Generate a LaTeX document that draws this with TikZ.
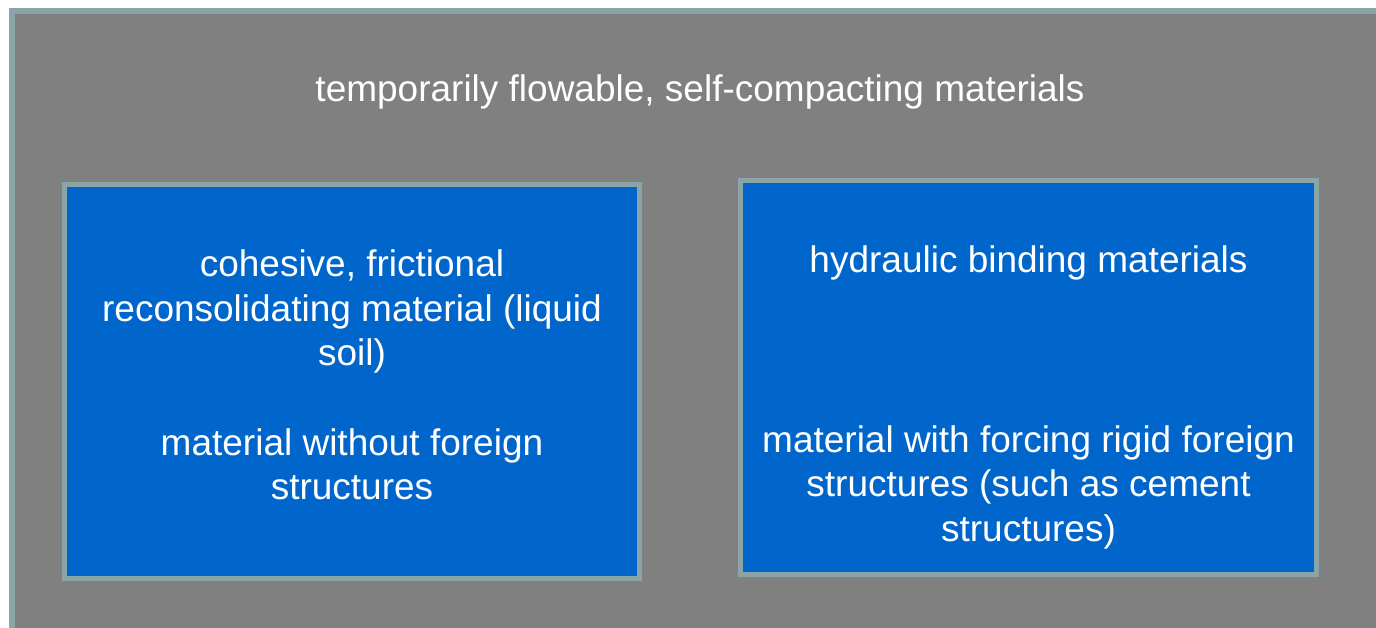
\documentclass[tikz,border=0pt]{standalone}
\usepackage{fontspec}
\setmainfont{Liberation Sans}
\usetikzlibrary{positioning}
\definecolor{framegrey}{RGB}{128,128,128}
\definecolor{edgeteal}{RGB}{139,164,168}
\definecolor{boxblue}{RGB}{0,102,204}

\begin{document}
\begin{tikzpicture}[x=1pt,y=-1pt,
  every node/.style={font=\fontsize{37}{44.5}\selectfont,text=white},
  matbox/.style={draw=edgeteal,fill=boxblue,line width=5pt,inner sep=0pt},
  txt/.style={align=center,inner sep=0pt,anchor=north}]
\useasboundingbox (0,0) rectangle (1376,628);
\clip (0,0) rectangle (1376,628);
% outer frame runs past the right and bottom edges
\draw[draw=edgeteal,fill=framegrey,line width=6pt] (12,11) rectangle (1400,660);
\node[anchor=base] (title) at (700,102) {temporarily flowable, self-compacting materials};
\node[matbox,minimum width=575pt,minimum height=394pt] (soil) at (352,381.5) {};
\node[matbox,minimum width=576pt,minimum height=394pt] (hydr) at (1028.5,377.5) {};
\node[txt] (soilTxt) at (352,249.5) {cohesive, frictional\\reconsolidating material (liquid\\soil)\\[45pt]material without foreign\\structures};
\node[txt] (hydrTxt) at (1028.5,245) {hydraulic binding materials\\[135.5pt]material with forcing rigid foreign\\structures (such as cement\\structures)};
\end{tikzpicture}
\end{document}
